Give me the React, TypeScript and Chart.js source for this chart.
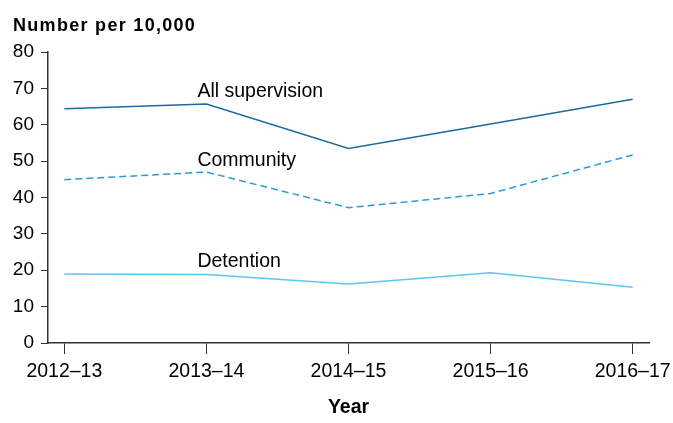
import React, { useEffect, useRef } from "react";
import { Chart, registerables } from "chart.js";

Chart.register(...registerables);

const years = ["2012–13", "2013–14", "2014–15", "2015–16", "2016–17"];
const allSupervision = [64.4, 65.7, 53.5, 60.2, 67.0];
const community = [44.9, 47.0, 37.2, 41.1, 51.7];
const detention = [19.0, 18.8, 16.2, 19.3, 15.3];
const yTicks = [0, 10, 20, 30, 40, 50, 60, 70, 80];

const FONT = "'Liberation Sans', Arial, sans-serif";

const seriesLabels = [
  { text: "All supervision", at: 1, value: 67.5 },
  { text: "Community", at: 1, value: 48.7 },
  { text: "Detention", at: 1, value: 21.0 },
];

const labelPlugin = {
  id: "seriesLabels",
  afterDatasetsDraw(chart: any) {
    const { ctx, scales } = chart;
    ctx.save();
    ctx.font = `19.5px ${FONT}`;
    ctx.fillStyle = "#000";
    ctx.textAlign = "left";
    ctx.textBaseline = "alphabetic";
    for (const l of seriesLabels) {
      const x = scales.x.getPixelForValue(l.at) - 9;
      const y = scales.y.getPixelForValue(l.value);
      ctx.fillText(l.text, x, y);
    }
    // chart title
    ctx.font = `bold 18px ${FONT}`;
    (ctx as any).letterSpacing = "1.3px";
    ctx.fillText("Number per 10,000", 13, 31);
    ctx.restore();
  },
};

export default function App() {
  const ref = useRef<HTMLCanvasElement>(null);
  useEffect(() => {
    const mk = (vals: number[]) => vals.map((v, i) => ({ x: i, y: v }));
    const chart = new Chart(ref.current!, {
      type: "line",
      data: {
        datasets: [
          {
            label: "All supervision",
            data: mk(allSupervision),
            borderColor: "#1b6b9d",
            borderWidth: 1.5,
            pointRadius: 0,
            tension: 0,
          },
          {
            label: "Community",
            data: mk(community),
            borderColor: "#2a9bd8",
            borderWidth: 1.5,
            borderDash: [7, 4],
            pointRadius: 0,
            tension: 0,
          },
          {
            label: "Detention",
            data: mk(detention),
            borderColor: "#5ec6f3",
            borderWidth: 1.5,
            pointRadius: 0,
            tension: 0,
          },
        ],
      },
      options: {
        animation: false,
        responsive: true,
        maintainAspectRatio: false,
        layout: { padding: { left: 0, right: 24, top: 52, bottom: 0 } },
        plugins: {
          legend: { display: false },
          tooltip: { enabled: false },
          title: { display: false },
        },
        scales: {
          x: {
            type: "linear",
            min: -0.115,
            max: 4.115,
            afterBuildTicks: (s: any) => {
              s.ticks = years.map((_, i) => ({ value: i }));
            },
            afterFit: (s: any) => {
              s.height = 80;
              s.paddingLeft = 0;
              s.paddingRight = 0;
            },
            ticks: {
              callback: (v: any) => years[v as number] ?? "",
              color: "#000",
              font: { family: FONT, size: 19.5 },
              maxRotation: 0,
              autoSkip: false,
              padding: 6,
            },
            grid: {
              display: true,
              drawOnChartArea: false,
              drawTicks: true,
              tickLength: 11,
              color: "#333",
            },
            border: { display: true, color: "#333", width: 1.5 },
            title: {
              display: true,
              text: "Year",
              color: "#000",
              font: { family: FONT, size: 19.5, weight: "bold" },
              padding: { top: 0, bottom: 4 },
            },
          },
          y: {
            min: 0,
            max: 80,
            afterBuildTicks: (s: any) => {
              s.ticks = yTicks.map((v) => ({ value: v }));
            },
            afterFit: (s: any) => {
              s.width = 48;
              s.paddingTop = 0;
              s.paddingBottom = 0;
            },
            ticks: {
              color: "#000",
              font: { family: FONT, size: 19 },
              padding: 7,
            },
            grid: {
              display: true,
              drawOnChartArea: false,
              drawTicks: true,
              tickLength: 7,
              color: "#333",
            },
            border: { display: true, color: "#333", width: 1.5 },
          },
        },
      },
      plugins: [labelPlugin],
    });
    return () => chart.destroy();
  }, []);
  return (
    <div style={{ position: "fixed", left: 0, top: 0, width: 673, height: 423, background: "#fff" }}>
      <canvas ref={ref} />
    </div>
  );
}
